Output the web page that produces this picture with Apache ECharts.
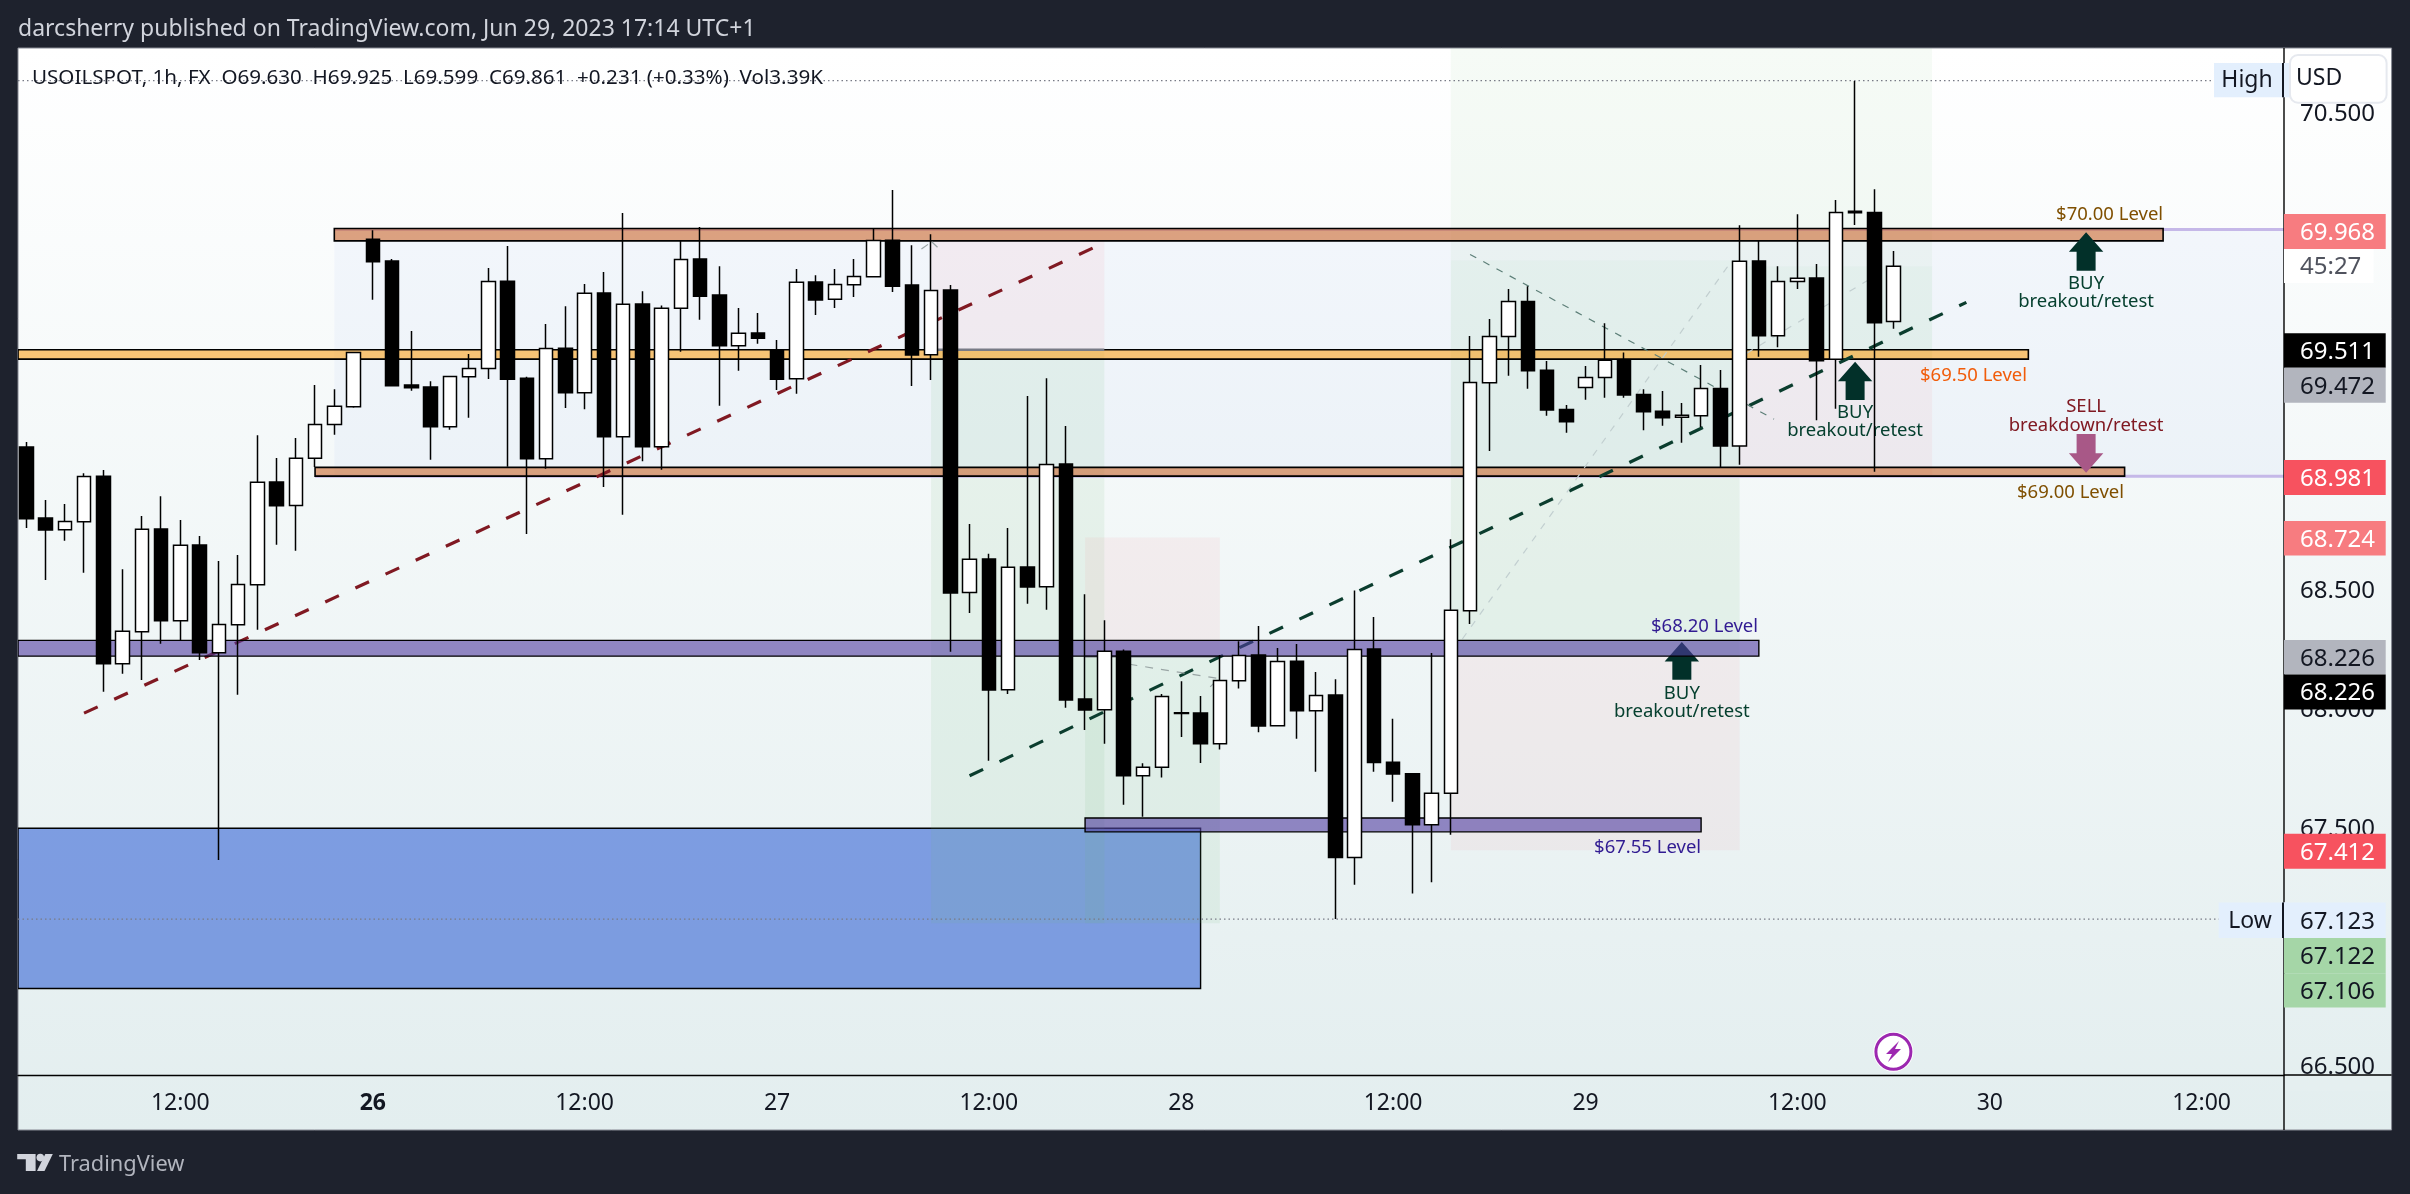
<!DOCTYPE html>
<html>
<head>
<meta charset="utf-8">
<style>html,body{margin:0;padding:0;background:#1e222d;width:2410px;height:1194px;overflow:hidden}#c{width:2410px;height:1194px}</style>
<script src="https://cdn.jsdelivr.net/npm/echarts@6/dist/echarts.min.js"></script>
</head>
<body>
<div id="c"></div>
<script>
const opens = [69.103,68.805,68.756,68.790,68.981,68.194,68.328,68.759,68.374,68.692,68.240,68.358,68.525,68.956,68.858,69.056,69.198,69.272,69.975,69.883,69.363,69.355,69.188,69.398,69.433,69.799,69.392,69.054,69.518,69.331,69.749,69.146,69.703,69.104,69.685,69.892,69.741,69.528,69.581,69.509,69.390,69.795,69.723,69.784,69.817,69.971,69.783,69.490,69.762,68.493,68.633,68.085,68.600,68.517,69.032,68.046,68.001,68.247,67.724,67.760,67.989,67.988,67.859,68.123,68.231,67.934,68.205,67.997,68.063,67.381,68.256,67.781,67.733,67.519,67.651,68.416,69.373,69.567,69.714,69.425,69.261,69.353,69.395,69.469,69.324,69.253,69.228,69.234,69.349,69.108,69.883,69.570,69.798,69.812,69.471,70.092,70.087,69.630];
const closes = [68.802,68.755,68.791,68.980,68.194,68.330,68.758,68.374,68.691,68.240,68.359,68.527,68.955,68.857,69.056,69.198,69.274,69.500,69.880,69.360,69.352,69.188,69.399,69.433,69.798,69.388,69.054,69.517,69.331,69.748,69.146,69.702,69.104,69.685,69.890,69.736,69.528,69.580,69.560,69.388,69.794,69.720,69.785,69.819,69.970,69.778,69.489,69.760,68.491,68.632,68.084,68.599,68.516,69.030,68.042,68.000,68.246,67.724,67.760,68.057,67.985,67.858,68.124,68.229,67.933,68.204,67.997,68.061,67.381,68.254,67.780,67.732,67.519,67.651,68.418,69.374,69.567,69.714,69.423,69.259,69.209,69.395,69.467,69.321,69.251,69.226,69.236,69.349,69.108,69.882,69.570,69.798,69.811,69.465,70.087,70.086,69.624,69.861];
const highs = [69.124,68.881,68.864,68.993,69.007,68.591,68.814,68.897,68.797,68.730,68.625,68.650,69.153,69.057,69.141,69.363,69.346,69.502,70.013,69.892,69.590,69.379,69.400,69.493,69.854,69.946,69.398,69.619,69.694,69.787,69.837,70.085,69.757,69.697,69.970,70.026,69.862,69.686,69.665,69.552,69.850,69.824,69.850,69.892,70.022,70.181,69.950,69.996,69.783,68.780,68.655,68.763,69.317,69.392,69.191,68.486,68.377,68.254,67.777,68.067,68.121,68.059,68.231,68.288,68.352,68.260,68.277,68.159,68.129,68.501,68.390,67.963,67.736,68.239,68.716,69.569,69.640,69.766,69.778,69.464,69.279,69.443,69.622,69.500,69.346,69.338,69.288,69.447,69.426,70.034,69.971,69.862,70.080,69.871,70.139,70.639,70.185,69.925];
const lows = [68.763,68.545,68.710,68.576,68.077,68.152,68.126,68.278,68.291,68.210,67.371,68.064,68.337,68.693,68.668,69.019,69.155,69.268,69.721,69.358,69.339,69.050,69.176,69.226,69.389,69.020,68.738,69.012,69.267,69.262,68.936,68.819,69.044,69.008,69.503,69.637,69.276,69.423,69.536,69.342,69.327,69.657,69.686,69.732,69.815,69.753,69.359,69.384,68.244,68.407,67.787,68.067,68.446,68.421,68.009,67.916,67.858,67.603,67.552,67.717,67.887,67.778,67.834,68.090,67.907,67.932,67.880,67.741,67.123,67.267,67.741,67.615,67.230,67.278,67.477,68.361,69.087,69.402,69.348,69.234,69.163,69.301,69.310,69.310,69.174,69.192,69.121,69.187,69.018,69.029,69.482,69.522,69.766,69.216,69.264,70.035,68.999,69.599];

const yMin = 66.469, yMax = 70.777;
const xMin = -0.431, xMax = 117.28;
const priceTicks = [70.5,70,69.5,69,68.5,68,67.5,67,66.5];
const timeTickBars = [8,18,29,39,50,60,71,81,92,102,113];
const timeTickLabels = ['12:00','26','12:00','27','12:00','28','12:00','29','12:00','30','12:00'];
const highPrice = 70.64, lowPrice = 67.123;

// [barFrom, barTo, priceTop, priceBottom, kind]
const boxZones = [[xMin,61,67.504,66.832,'box']];
const backgroundZones = [
  [16,xMax,70.02,68.98,'blue'],
  [47,56,69.968,69.511,'pink'],
  [47,56,69.511,67.106,'green'],
  [55,62,68.724,68.226,'pink'],
  [55,62,68.226,67.106,'green'],
  [74,89,yMax,69.887,'faint'],
  [74,89,69.887,68.226,'green'],
  [74,89,68.226,67.412,'pink'],
  [89,99,yMax,69.862,'faint'],
  [89,99,69.862,69.472,'green'],
  [89,99,69.472,68.981,'pink']
];
const levelZones = [
  [16,111,70.02,69.968,'copper'],
  [xMin,104,69.511,69.472,'amber'],
  [15,109,69.018,68.981,'copper'],
  [55,87,67.547,67.489,'violet']
];
const topZones = [[xMin,90,68.292,68.226,'violet']];
// [barFrom, priceFrom, barTo, priceTo, kind]
const guideLines = [
  [16,70.016,xMax,70.016,'lilac'],
  [15,68.981,xMax,68.981,'lilac']
];
const trendLines = [
  [47.2,69.511,56,69.511,'entry'],
  [55,68.226,62,68.226,'entry'],
  [xMin,highPrice,113.6,highPrice,'dots'],
  [xMin,lowPrice,113.9,lowPrice,'dots'],
  [3,67.987,56,69.96,'red'],
  [49,67.724,100.78,69.71,'teal'],
  [75,69.911,90.79,69.22,'thin'],
  [74.6,68.298,88.5,69.874,'faint'],
  [89.37,69.497,96.97,69.866,'faint'],
  [57.3,68.192,61.94,68.132,'thin2'],
  [61.5,68.097,61.94,68.132,'thin2'],
  [46.5,69.934,47.03,69.964,'thin2'],
  [47.03,69.964,47.43,69.934,'thin2']
];
// [bar, tipPrice, tailPrice, kind]
const arrows = [[107,70.004,69.843,'buy'],[95,69.461,69.300,'buy'],[86,68.285,68.127,'buy'],[107,68.995,69.158,'sell']];
// [text, bar, price, align, kind]
const notes = [
  ['$70.00 Level',111,70.085,'right','brown'],
  ['$69.50 Level',103.93,69.409,'right','orange'],
  ['$69.00 Level',108.97,68.92,'right','brown'],
  ['$68.20 Level',89.96,68.358,'right','indigo'],
  ['$67.55 Level',87,67.432,'right','indigo'],
  ['BUY',107,69.796,'center','buy'],['breakout/retest',107,69.72,'center','buy'],
  ['BUY',95,69.255,'center','buy'],['breakout/retest',95,69.179,'center','buy'],
  ['BUY',86,68.076,'center','buy'],['breakout/retest',86,68.0,'center','buy'],
  ['SELL',107,69.279,'center','sell'],['breakdown/retest',107,69.202,'center','sell']
];
const headerText = 'darcsherry published on TradingView.com, Jun 29, 2023 17:14 UTC+1';
const legendText = 'USOILSPOT, 1h, FX  O69.630  H69.925  L69.599  C69.861  +0.231 (+0.33%)  Vol3.39K';
const footerText = 'TradingView';
// [text, kind]
const priceTags = [
  ['69.968','salmon'],['45:27','timer'],['69.511','black'],['69.472','gray'],['68.981','red'],['68.724','salmon'],
  ['68.226','gray'],['68.226','black'],['67.412','red'],['67.123','pale'],['67.122','mint'],['67.106','mint']
];

/* ---------- styles & layout ---------- */
const FONT = '"Noto Sans", sans-serif';
const zoneStyle = {
  blue:{fill:'rgba(60,110,240,0.04)'},
  pink:{fill:'rgba(245,130,140,0.085)'},
  green:{fill:'rgba(110,190,120,0.1)'},
  faint:{fill:'rgba(130,200,135,0.075)'},
  box:{fill:'rgba(79,120,216,0.7)',stroke:'#000',lineWidth:1.4},
  copper:{fill:'rgba(203,105,47,0.6)',stroke:'#000',lineWidth:1.6},
  amber:{fill:'rgba(250,162,28,0.6)',stroke:'#000',lineWidth:1.6},
  violet:{fill:'rgba(80,60,160,0.6)',stroke:'#000',lineWidth:1.4}
};
const lineStyle = {
  lilac:{stroke:'#c5b8e8',lineWidth:3},
  entry:{stroke:'#787b86',lineWidth:2.5},
  dots:{stroke:'#787b86',lineWidth:1.2,lineDash:[1.5,3]},
  red:{stroke:'#801922',lineWidth:3.2,lineDash:[15,18.2]},
  teal:{stroke:'#0b3d2e',lineWidth:3.2,lineDash:[15,18.2]},
  thin:{stroke:'#5d7f78',lineWidth:1.2,lineDash:[7,8]},
  thin2:{stroke:'#9aa5a5',lineWidth:1.2,lineDash:[8,8]},
  faint:{stroke:'#c2cfd0',lineWidth:1.2,lineDash:[7,8]}
};
const noteColor = {brown:'#7f4f00',orange:'#f15c0a',indigo:'#311b92',buy:'#06402f',sell:'#801922'};
const arrowColor = {buy:'#023029',sell:'#a85887'};
const tagStyle = {
  salmon:{bg:'#f77c80',fg:'#ffffff'},red:{bg:'#f7525f',fg:'#ffffff'},black:{bg:'#000000',fg:'#ffffff'},
  gray:{bg:'#b2b5be',fg:'#131722'},mint:{bg:'#a5d6a7',fg:'#131722'},pale:{bg:'#e3effd',fg:'#131722'},timer:{bg:'#ffffff',fg:'#50535e'}
};
const tagBoxes = [[214,249],[249,283],[333.3,367.7],[367.7,402.7],[460,495],[521,555.4],[640,674.6],[674.6,709.6],[833.8,868.8],[902.5,938],[938,973.3],[973.3,1007.5]];

function rects(items, z){
  return {type:'custom',coordinateSystem:'cartesian2d',z,silent:true,clip:true,
    data:items.map(d=>[d[0],d[2]]),
    renderItem(p,api){
      const d=items[p.dataIndex],a=api.coord([d[0],d[2]]),b=api.coord([d[1],d[3]]);
      return {type:'rect',shape:{x:a[0],y:a[1],width:b[0]-a[0],height:b[1]-a[1]},style:zoneStyle[d[4]]};
    }};
}
function lines(items, z){
  return {type:'custom',coordinateSystem:'cartesian2d',z,silent:true,clip:true,
    data:items.map(d=>[d[0],d[1]]),
    renderItem(p,api){
      const d=items[p.dataIndex],a=api.coord([d[0],d[1]]),b=api.coord([d[2],d[3]]);
      return {type:'line',shape:{x1:a[0],y1:a[1],x2:b[0],y2:b[1]},style:Object.assign({fill:null},lineStyle[d[4]])};
    }};
}
const arrowSeries = {type:'custom',coordinateSystem:'cartesian2d',z:4,silent:true,clip:false,
  data:arrows.map(d=>[d[0],d[1]]),
  renderItem(p,api){
    const d=arrows[p.dataIndex],t=api.coord([d[0],d[1]]),e=api.coord([d[0],d[2]]);
    const s=e[1]>t[1]?1:-1,x=t[0],H=19.5*s,w=17.2,q=9.5;
    return {type:'polygon',shape:{points:[[x,t[1]],[x+w,t[1]+H],[x+q,t[1]+H],[x+q,e[1]],[x-q,e[1]],[x-q,t[1]+H],[x-w,t[1]+H]]},style:{fill:arrowColor[d[3]]}};
  }};
const noteSeries = {type:'custom',coordinateSystem:'cartesian2d',z:4,silent:true,clip:false,
  data:notes.map(d=>[d[1],d[2]]),
  renderItem(p,api){
    const d=notes[p.dataIndex],a=api.coord([d[1],d[2]]);
    return {type:'text',style:{text:d[0],x:a[0],y:a[1]+2,align:d[3],verticalAlign:'middle',fill:noteColor[d[4]],font:'18.5px '+FONT}};
  }};

const ohlc = opens.map((o,i)=>[i,o,closes[i],lows[i],highs[i]]);

const g = [];
const panel = {l:18,t:48,r:2391.6,b:1130,axisX:2284,axisY:1075};
g.push({type:'rect',z:-10,shape:{x:panel.l,y:panel.t,width:panel.r-panel.l,height:panel.b-panel.t},
  style:{fill:new echarts.graphic.LinearGradient(0,0,0,1,[{offset:0,color:'#ffffff'},{offset:1,color:'#e3eeef'}]),stroke:'#868993',lineWidth:1}});
function txt(text,x,y,color,size,align,weight){
  g.push({type:'text',z:110,silent:true,style:{text,x,y,fill:color,align:align||'left',verticalAlign:'middle',font:(weight?weight+' ':'')+size+'px '+FONT}});
}
function box(x,y,w,h,fill,r,stroke){
  g.push({type:'rect',z:100,silent:true,shape:{x,y,width:w,height:h,r:r||0},style:{fill,stroke:stroke||null,lineWidth:stroke?2:0}});
}
txt(headerText,18,29,'#d1d4dc',23);
txt(legendText,32,78,'#131722',20.6);
box(panel.axisX+1,panel.axisY,panel.r-panel.axisX-2,16,'#e5eff0',0);
g.push({type:'line',z:101,silent:true,shape:{x1:panel.axisX,y1:panel.axisY,x2:panel.r,y2:panel.axisY},style:{stroke:'#000',lineWidth:1.4}});
g.push({type:'line',z:90,silent:true,shape:{x1:panel.axisX,y1:panel.t,x2:panel.axisX,y2:panel.b},style:{stroke:'#000',lineWidth:1.4}});
box(2214,63,90,34.3,'#e3effd',0);
txt('High',2247,80,'#131722',23,'center');
box(2218.6,902.5,70,35.5,'#e3effd',0);
txt('Low',2250,921,'#131722',23,'center');
priceTags.forEach((t,i)=>{
  const st=tagStyle[t[1]],bx=tagBoxes[i],timer=t[1]==='timer';
  box(panel.axisX,bx[0],(timer?2373.5:2385.7)-panel.axisX,bx[1]-bx[0],st.bg,0);
  txt(t[0],2300,(bx[0]+bx[1])/2+1.5,st.fg,24);
});
box(2282,63,2,34.3,'#131722',0);
box(2282,902.5,2,35.5,'#131722',0);
box(2290,55,96.6,47.7,'#ffffff',8,'#e6e9ef');
txt('USD',2296,78,'#131722',23);
g.push({type:'circle',z:100,silent:true,shape:{cx:1893.4,cy:1051.7,r:20},style:{fill:'#ffffff'}});
g.push({type:'circle',z:101,silent:true,shape:{cx:1893.4,cy:1051.7,r:17.5},style:{fill:'#ffffff',stroke:'#9c27b0',lineWidth:3}});
g.push({type:'polygon',z:102,silent:true,shape:{points:[[1899,1041],[1886,1054],[1892,1054],[1888,1062],[1901,1049],[1895,1049]]},style:{fill:'#9c27b0'}});
const logo='#d1d4dc';
g.push({type:'polygon',z:100,silent:true,shape:{points:[[17.2,1154],[35.6,1154],[35.6,1171],[25.8,1171],[25.8,1159.3],[17.2,1159.3]]},style:{fill:logo}});
g.push({type:'circle',z:100,silent:true,shape:{cx:40.3,cy:1157.6,r:3.8},style:{fill:logo}});
g.push({type:'polygon',z:100,silent:true,shape:{points:[[52.8,1154],[44.5,1171],[37,1171],[45.3,1154]]},style:{fill:logo}});
txt(footerText,59,1165,'#b2b5be',21.8);

const chart = echarts.init(document.getElementById('c'),null,{width:2410,height:1194,renderer:'canvas'});
chart.setOption({
  animation:false,
  backgroundColor:'#1e222d',
  grid:{left:18,top:48,width:2266,height:1027,containLabel:false},
  xAxis:{type:'value',min:xMin,max:xMax,splitLine:{show:false},
    axisLine:{show:true,onZero:false,lineStyle:{color:'#000',width:1.4}},axisTick:{show:false},
    axisLabel:{customValues:timeTickBars,margin:17,color:'#131722',fontSize:23,fontFamily:FONT,hideOverlap:false,
      formatter:(v)=>{const s=timeTickLabels[timeTickBars.indexOf(v)];return s==='26'?'{b|26}':s;},
      rich:{b:{fontWeight:'bold',fontSize:23,fontFamily:FONT,color:'#131722'}}}},
  yAxis:{type:'value',position:'right',min:yMin,max:yMax,scale:true,splitLine:{show:false},
    axisLine:{show:false},axisTick:{show:false},
    axisLabel:{customValues:priceTicks,margin:16,color:'#131722',fontSize:24,fontFamily:FONT,hideOverlap:false,padding:[3,0,0,0],
      showMinLabel:true,showMaxLabel:true,formatter:(v)=>v.toFixed(3)}},
  series:[
    rects(boxZones,0.5),
    rects(backgroundZones,1),
    lines(guideLines,1.5),
    rects(levelZones,2),
    lines(trendLines,3),
    arrowSeries,
    noteSeries,
    rects(topZones,4.5),
    {type:'candlestick',z:5,barWidth:14,encode:{x:0,y:[1,2,3,4]},data:ohlc,clip:true,
     itemStyle:{color:'#ffffff',color0:'#000000',borderColor:'#000000',borderColor0:'#000000',borderWidth:1.5}}
  ],
  graphic:{elements:g}
});
</script>
</body>
</html>
